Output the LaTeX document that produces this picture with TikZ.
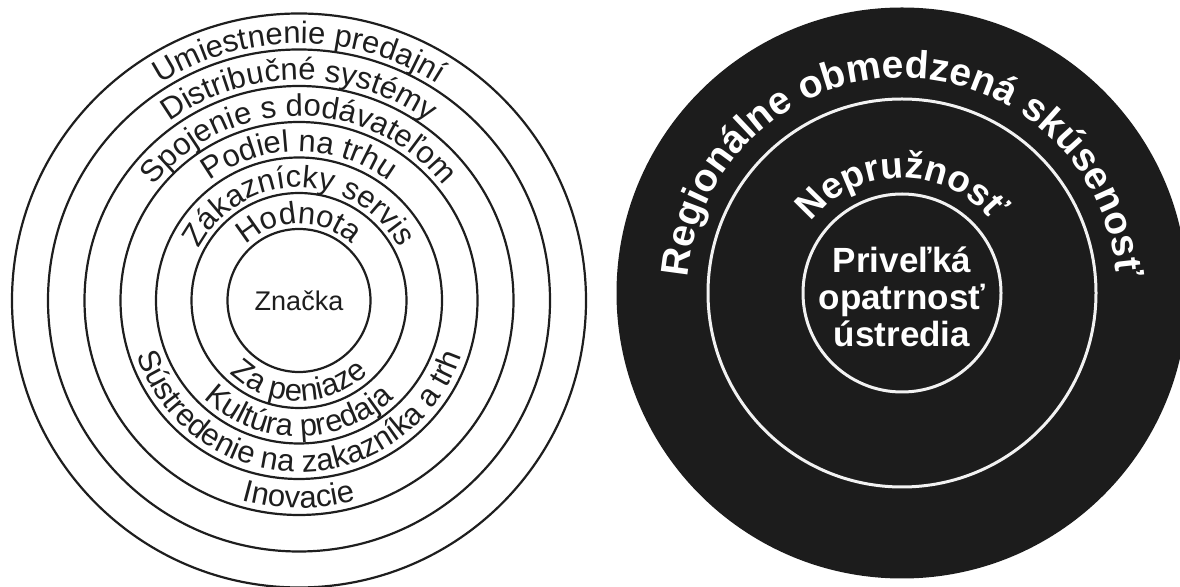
\documentclass[tikz,border=0pt]{standalone}
\usepackage{fontspec}
\setmainfont{Liberation Sans}
\usetikzlibrary{decorations.text,calc}

\definecolor{ink}{HTML}{1E1E1E}
\definecolor{disc}{HTML}{1C1C1C}
\definecolor{rim}{HTML}{F2F2F2}

\tikzset{
  ringline/.style={draw=ink, line width=2.2pt},
  rimline/.style={draw=rim, line width=3pt},
  % light text following an arc
  ringtext/.style={decorate, decoration={text along path, text align=center,
      text color=ink, text={|\fontsize{31}{33}\selectfont|#1}}},
  % bold white text following an arc
  boldtext/.style 2 args={decorate, decoration={text along path, text align=center,
      text color=white, text={|\bfseries\fontsize{#1}{#1}\selectfont|#2}}},
}

\begin{document}
\begin{tikzpicture}[x=1pt, y=1pt]
\useasboundingbox (0,0) rectangle (1180,586);

% ---------- left: seven rings ----------
\coordinate (L) at (299,285.5);
\foreach \r in {71.5,107.5,143,178.5,214.5,251,287}
  \draw[ringline] (L) circle[radius=\r];

\node[font=\fontsize{27}{29}\selectfont, text=ink] (brand) at (L) {Značka};

% labels over the top, reading clockwise
\path[ringtext={Hodnota}]               ($(L)+(180:77)$)    arc[start angle=180, end angle=0, radius=77];
\path[ringtext={Zákaznícky servis}]     ($(L)+(180:113)$)   arc[start angle=180, end angle=0, radius=113];
\path[ringtext={Podiel na trhu}]        ($(L)+(180:149)$)   arc[start angle=180, end angle=0, radius=149];
\path[ringtext={Spojenie s dodávateľom}]($(L)+(180:184.5)$) arc[start angle=180, end angle=0, radius=184.5];
\path[ringtext={Distribučné systémy}]   ($(L)+(180:220.5)$) arc[start angle=180, end angle=0, radius=220.5];
\path[ringtext={Umiestnenie predajní}]  ($(L)+(180:257)$)   arc[start angle=180, end angle=0, radius=257];

% labels under the bottom, reading counter-clockwise
\path[ringtext={Za peniaze}]                      ($(L)+(180:100.5)$) arc[start angle=180, end angle=360, radius=100.5];
\path[ringtext={Kultúra predaja}]                 ($(L)+(180:136)$)   arc[start angle=180, end angle=360, radius=136];
\path[ringtext={Sústredenie na zakazníka a trh}]  ($(L)+(180:171.5)$) arc[start angle=180, end angle=360, radius=171.5];
\path[ringtext={Inovacie}]                        ($(L)+(180:207.5)$) arc[start angle=180, end angle=360, radius=207.5];

% ---------- right: dark disc ----------
\coordinate (R) at (902,293);
\fill[disc] (R) circle[radius=285.5];
\draw[rimline] (R) circle[radius=194];
\draw[rimline] (R) circle[radius=99];

\node[font=\bfseries\fontsize{35}{37}\selectfont, text=white, align=center] (core) at ($(R)+(0,-4)$)
  {Priveľká\\opatrnosť\\ústredia};

\path[boldtext={39}{Regionálne obmedzená skúsenosť}] ($(R)+(180:215)$) arc[start angle=180, end angle=0, radius=215];
\path[boldtext={37}{Nepružnosť}] ($(R)+(180:115)$) arc[start angle=180, end angle=0, radius=115];
\end{tikzpicture}
\end{document}
